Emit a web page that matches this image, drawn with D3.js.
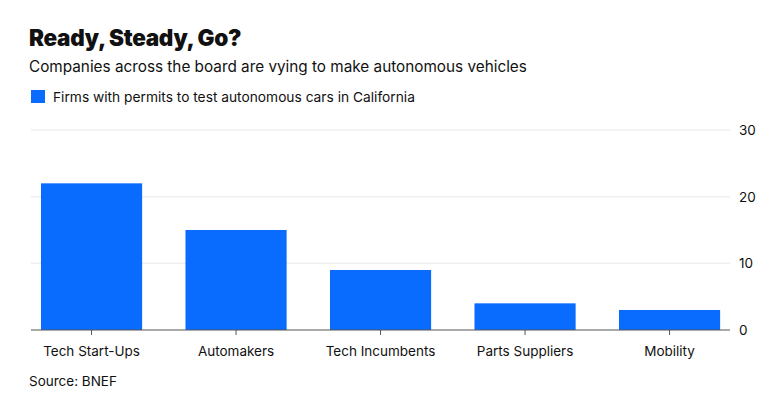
<!DOCTYPE html>
<html>
<head>
<meta charset="utf-8">
<script src="https://cdn.jsdelivr.net/npm/d3@7"></script>
<style>
  body { margin: 0; background: #fff; }
  text { font-family: "Inter", "Noto Sans", sans-serif; fill: #111; }
</style>
</head>
<body>
<div id="chart"></div>
<script>
// Chart data
const categories = ["Tech Start-Ups", "Automakers", "Tech Incumbents", "Parts Suppliers", "Mobility"];
const permits = [22, 15, 9, 4, 3];
const yTicks = [0, 10, 20, 30];

const width = 779, height = 394;

const svg = d3.select("#chart").append("svg")
    .attr("width", width)
    .attr("height", height);

// Headings
svg.append("text").attr("x", 29).attr("y", 46)
    .style("font-size", "22.5px").style("font-weight", 900)
    .style("letter-spacing", "-0.3px")
    .text("Ready, Steady, Go?");
svg.append("text").attr("x", 29).attr("y", 72)
    .style("font-size", "15.3px")
    .text("Companies across the board are vying to make autonomous vehicles");

// Legend
svg.append("rect").attr("x", 31).attr("y", 90).attr("width", 14).attr("height", 13)
    .attr("fill", "#0a6cff");
svg.append("text").attr("x", 53).attr("y", 102)
    .style("font-size", "13.75px")
    .text("Firms with permits to test autonomous cars in California");

// Scales
const x = d3.scaleBand()
    .domain(categories)
    .range([19.3, 741.8])
    .paddingInner(0.3)
    .paddingOuter(0.15);

const y = d3.scaleLinear()
    .domain([0, 30])
    .range([330, 130]);

const plotLeft = 31, plotRight = 730;

// Gridlines
svg.append("g")
    .selectAll("line")
    .data(yTicks.filter(d => d > 0))
    .join("line")
    .attr("x1", plotLeft).attr("x2", plotRight)
    .attr("y1", d => y(d)).attr("y2", d => y(d))
    .attr("stroke", "#efefef")
    .attr("stroke-width", 1.5);

// Right-hand y labels
svg.append("g")
    .selectAll("text")
    .data(yTicks)
    .join("text")
    .attr("x", 739)
    .attr("y", d => y(d) + 5)
    .style("font-size", "13.5px")
    .text(d => d);

// Bars
svg.append("g")
    .selectAll("rect")
    .data(permits)
    .join("rect")
    .attr("x", (d, i) => x(categories[i]))
    .attr("width", x.bandwidth())
    .attr("y", d => y(d))
    .attr("height", d => y(0) - y(d))
    .attr("fill", "#0a6cff");

// Baseline and x ticks
svg.append("line")
    .attr("x1", plotLeft).attr("x2", plotRight)
    .attr("y1", y(0)).attr("y2", y(0))
    .attr("stroke", "#555").attr("stroke-width", 1);

const xAxis = svg.append("g");
xAxis.selectAll("line")
    .data(categories)
    .join("line")
    .attr("x1", d => x(d) + x.bandwidth() / 2)
    .attr("x2", d => x(d) + x.bandwidth() / 2)
    .attr("y1", y(0)).attr("y2", y(0) + 5)
    .attr("stroke", "#555");
xAxis.selectAll("text")
    .data(categories)
    .join("text")
    .attr("x", d => x(d) + x.bandwidth() / 2)
    .attr("y", 356)
    .attr("text-anchor", "middle")
    .style("font-size", "13.5px")
    .text(d => d);

// Source
svg.append("text").attr("x", 29).attr("y", 386)
    .style("font-size", "13.5px")
    .text("Source: BNEF");
</script>
</body>
</html>
